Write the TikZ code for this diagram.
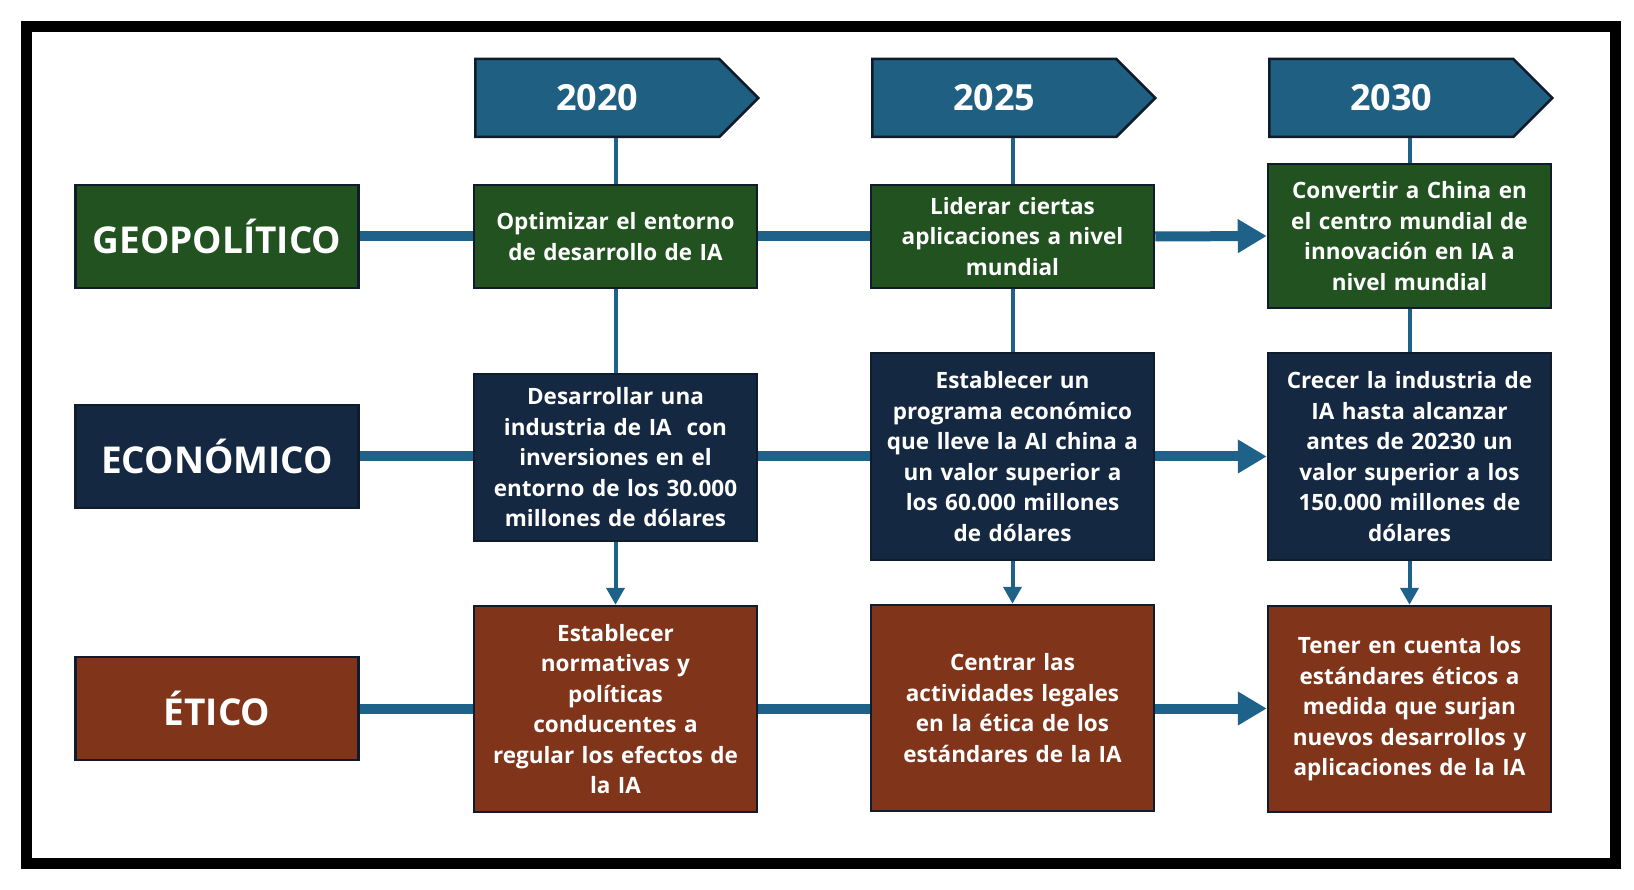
\documentclass[tikz,border=0pt]{standalone}
\usepackage{fontspec}
\setmainfont{Open Sans}
\usetikzlibrary{arrows.meta}
\usetikzlibrary{shapes.symbols}

\definecolor{yearblue}{HTML}{1F5F82}
\definecolor{lineblue}{HTML}{1F6289}
\definecolor{geogreen}{HTML}{21521F}
\definecolor{econnavy}{HTML}{152841}
\definecolor{etbrown}{HTML}{80341A}
\definecolor{edgedark}{HTML}{0F1C2B}

\begin{document}
\begin{tikzpicture}[x=1pt,y=-1pt,
  box/.style={draw=edgedark, line width=2.5pt, text=white, font=\bfseries\fontsize{22.5}{30.5}\selectfont,
    align=center, text width=275pt, minimum width=283pt, inner sep=0pt},
  rowlabel/.style={box, minimum height=103pt, font=\bfseries\fontsize{37}{40}\selectfont},
  yearsign/.style={draw=edgedark, line width=2.5pt, fill=yearblue, text=white, signal, signal to=east,
    signal pointer angle=90, minimum width=283pt, minimum height=78pt, inner sep=0pt, anchor=west,
    font=\bfseries\fontsize{36}{40}\selectfont},
  hline/.style={draw=lineblue, line width=10pt},
  harrow/.style={hline, -{Triangle[length=29pt,width=32pt]}},
  vline/.style={draw=lineblue, line width=4pt},
  varrow/.style={vline, -{Triangle[length=17pt,width=18pt]}}]
\useasboundingbox (0,0) rectangle (1634,890);
\draw[line width=11pt] (26.5,26.5) rectangle (1615.5,863.5); % frame

% years
\node[yearsign] (y2020) at (474,98) {2020};
\node[yearsign] (y2025) at (871,98) {2025};
\node[yearsign] (y2030) at (1268,98) {2030};

% row labels
\node[rowlabel, fill=geogreen] (geo) at (217,236.5) {GEOPOLÍTICO};
\node[rowlabel, fill=econnavy] (econ) at (217,456.5) {ECONÓMICO};
\node[rowlabel, fill=etbrown] (etic) at (217,708.5) {ÉTICO};

% geopolitico
\node[box, fill=geogreen, minimum height=103pt] (geoA) at (615.5,236.5) {Optimizar el entorno\\de desarrollo de IA};
\node[box, fill=geogreen, minimum height=103pt] (geoB) at (1012.5,236.5) {Liderar ciertas\\aplicaciones a nivel\\mundial};
\node[box, fill=geogreen, minimum height=144pt] (geoC) at (1409.5,236) {Convertir a China en\\el centro mundial de\\innovación en IA a\\nivel mundial};

% economico
\node[box, fill=econnavy, minimum height=167pt] (econA) at (615.5,457.5) {Desarrollar una\\industria de IA\ \ con\\inversiones en el\\entorno de los 30.000\\millones de dólares};
\node[box, fill=econnavy, minimum height=207pt] (econB) at (1012.5,456.5) {Establecer un\\programa económico\\que lleve la AI china a\\un valor superior a\\los 60.000 millones\\de dólares};
\node[box, fill=econnavy, minimum height=207pt] (econC) at (1409.5,456.5) {Crecer la industria de\\IA hasta alcanzar\\antes de 20230 un\\valor superior a los\\150.000 millones de\\dólares};

% etico
\node[box, fill=etbrown, minimum height=206pt] (etA) at (615.5,709) {Establecer\\normativas y\\políticas\\conducentes a\\regular los efectos de\\la IA};
\node[box, fill=etbrown, minimum height=206pt] (etB) at (1012.5,708) {Centrar las\\actividades legales\\en la ética de los\\estándares de la IA};
\node[box, fill=etbrown, minimum height=206pt] (etC) at (1409.5,709) {Tener en cuenta los\\estándares éticos a\\medida que surjan\\nuevos desarrollos y\\aplicaciones de la IA};

% horizontal connectors
\draw[hline] (geo.east) -- (geoA.west);
\draw[hline] (geoA.east) -- (geoB.west);
\draw[harrow] (geoB.east) -- (geoC.west);
\draw[hline] (econ.east) -- (econA.west |- econ.east);
\draw[hline] (econA.east |- econ.east) -- (econB.west |- econ.east);
\draw[harrow] (econB.east |- econ.east) -- (econC.west |- econ.east);
\draw[hline] (etic.east) -- (etA.west |- etic.east);
\draw[hline] (etA.east |- etic.east) -- (etB.west |- etic.east);
\draw[harrow] (etB.east |- etic.east) -- (etC.west |- etic.east);

% vertical connectors
\draw[vline] (y2020.south -| geoA.north) -- (geoA.north);
\draw[vline] (geoA.south) -- (econA.north);
\draw[varrow] (econA.south) -- (etA.north);
\draw[vline] (y2025.south -| geoB.north) -- (geoB.north);
\draw[vline] (geoB.south) -- (econB.north);
\draw[varrow] (econB.south) -- (etB.north);
\draw[vline] (y2030.south -| geoC.north) -- (geoC.north);
\draw[vline] (geoC.south) -- (econC.north);
\draw[varrow] (econC.south) -- (etC.north);
\end{tikzpicture}
\end{document}
